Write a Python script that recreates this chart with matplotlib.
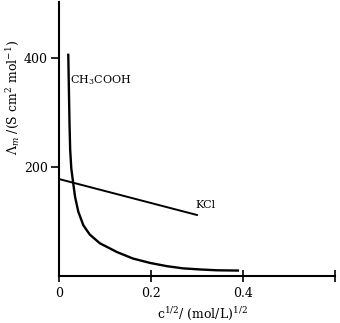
import numpy as np
import matplotlib
matplotlib.use('Agg')
import matplotlib.pyplot as plt

plt.rcParams['font.family'] = 'DejaVu Serif'
plt.rcParams['mathtext.fontset'] = 'dejavuserif'

# molar conductivity vs sqrt(concentration)
ch3cooh_x = [0.0202, 0.0216, 0.0229, 0.0243, 0.0268, 0.031, 0.035, 0.042, 0.053, 0.067,
             0.089, 0.126, 0.161, 0.198, 0.235, 0.270, 0.307, 0.343, 0.389]
ch3cooh_y = [406, 340, 280, 232, 197, 170, 145, 118, 93, 76,
             60, 44, 32, 24, 18, 14, 12, 10.5, 10]
kcl_x = [0.0, 0.30]
kcl_y = [178, 112]

xticks = [0, 0.2, 0.4, 0.6]
xtick_labels = ['0', '0.2', '0.4', '']
yticks = [200, 400]

fig = plt.figure(figsize=(3.4, 3.23), dpi=100)
ax = fig.add_axes([0.1735, 0.1455, 0.8115, 0.8485])

ax.plot(ch3cooh_x, ch3cooh_y, color='black', lw=1.7, solid_joinstyle='round')
ax.plot(kcl_x, kcl_y, color='black', lw=1.4)

ax.text(0.025, 360, r'CH$_3$COOH', fontsize=8, va='center', ha='left')
ax.text(0.297, 131, 'KCl', fontsize=8, va='center', ha='left')

ax.set_xlim(0, 0.6)
ax.set_ylim(0, 503)
ax.set_xticks(xticks)
ax.set_xticklabels(xtick_labels)
ax.set_yticks(yticks)

for s in ['top', 'right']:
    ax.spines[s].set_visible(False)
for s in ['left', 'bottom']:
    ax.spines[s].set_linewidth(1.5)

ax.tick_params(axis='x', direction='inout', length=8, width=1.2, labelsize=9, pad=4)
ax.tick_params(axis='y', direction='out', length=6, width=1.2, labelsize=9, pad=2)

ax.set_xlabel(r'c$^{1/2}$/ (mol/L)$^{1/2}$', fontsize=9)
ax.set_ylabel(r'$\Lambda_m$ /(S cm$^2$ mol$^{-1}$)', fontsize=9)
ax.xaxis.set_label_coords(0.518, -0.105)
ax.yaxis.set_label_coords(-0.135, 0.653)

fig.savefig('out.png', dpi=100)
